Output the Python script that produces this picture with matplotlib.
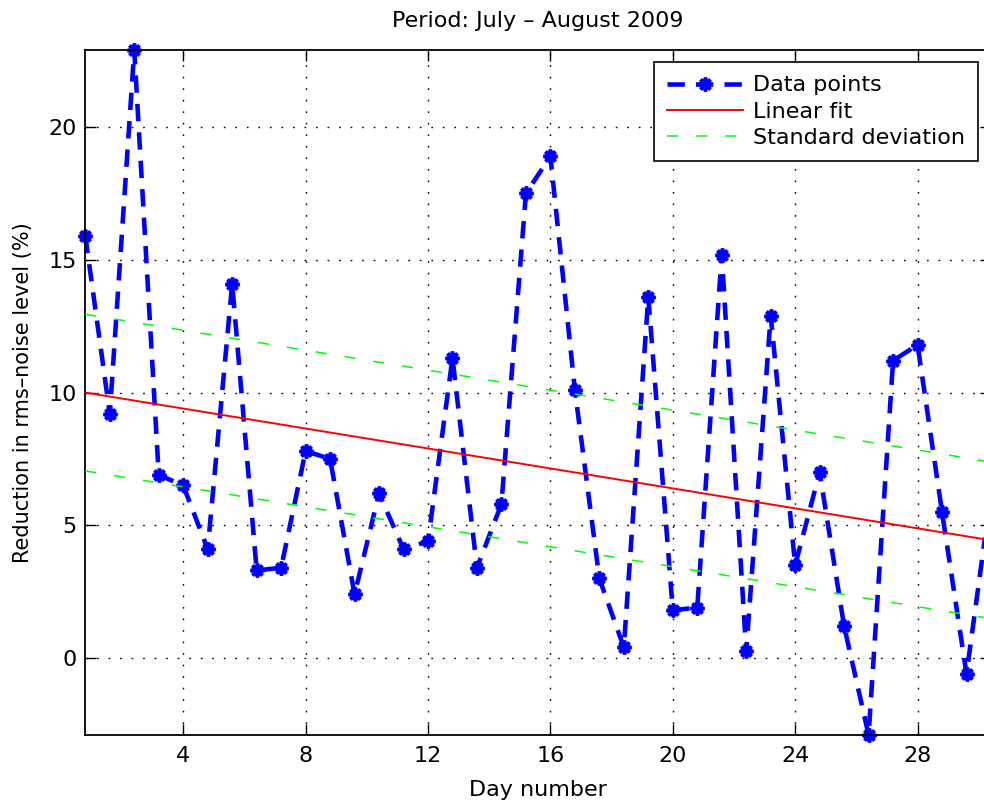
import matplotlib
matplotlib.use("Agg")
import matplotlib.pyplot as plt
import numpy as np

plt.rcParams['font.family'] = ['DejaVu Sans']
plt.rcParams['lines.scale_dashes'] = False

# Measurements: day number and reduction of the rms-noise level (%)
days = [0.8, 1.6, 2.4, 3.2, 4.0, 4.8, 5.6, 6.4, 7.2, 8.0, 8.8, 9.6, 10.4,
        11.2, 12.0, 12.8, 13.6, 14.4, 15.2, 16.0, 16.8, 17.6, 18.4, 19.2,
        20.0, 20.8, 21.6, 22.4, 23.2, 24.0, 24.8, 25.6, 26.4, 27.2, 28.0,
        28.8, 29.6, 30.4]
reduction = [15.9, 9.2, 22.9, 6.9, 6.5, 4.1, 14.1, 3.3, 3.4, 7.8, 7.5, 2.4,
             6.2, 4.1, 4.4, 11.3, 3.4, 5.8, 17.5, 18.9, 10.1, 3.0, 0.4, 13.6,
             1.8, 1.9, 15.2, 0.25, 12.9, 3.5, 7.0, 1.2, -2.9, 11.2, 11.8,
             5.5, -0.6, 6.2]

# Linear trend and its spread
fit_intercept = 10.15
fit_slope = -0.188
fit_sigma = 2.95

xticks = [4, 8, 12, 16, 20, 24, 28]
yticks = [0, 5, 10, 15, 20]

FS = 16

fig = plt.figure(figsize=(9.84, 8.02), dpi=100)
ax = fig.add_axes([0.0867, 0.0835, 0.9204, 0.854])

ax.plot(days, reduction, color='#0000ff', linestyle=(0, (12.5, 8.0)),
        linewidth=3.3, marker=(8, 2, 0), markersize=10, markeredgewidth=2.6,
        clip_on=False, zorder=2, label='Data points')

fx = np.array([days[0], days[-1]])
fy = fit_intercept + fit_slope * fx
ax.plot(fx, fy, color='#ff0000', linewidth=1.4, zorder=3, label='Linear fit')
ax.plot(fx, fy + fit_sigma, color='#00ff00', linestyle=(0, (8.0, 13.0)),
        linewidth=1.1, zorder=3, label='Standard deviation')
ax.plot(fx, fy - fit_sigma, color='#00ff00', linestyle=(0, (8.0, 13.0)),
        linewidth=1.1, zorder=3)

ax.set_xlim(days[0], days[-1])
ax.set_ylim(min(reduction), max(reduction))
ax.set_xticks(xticks)
ax.set_yticks(yticks)

ax.grid(True, color='black', linestyle=(0, (1.2, 7.1)), linewidth=1.0)
ax.set_axisbelow(True)

ax.tick_params(direction='in', length=8, width=1.0, top=True, right=True,
               labelsize=FS, colors='black')
ax.tick_params(axis='x', pad=8)
ax.tick_params(axis='y', pad=6)
for s in ax.spines.values():
    s.set_linewidth(1.3)
    s.set_color('black')

ax.set_title('Period: July – August 2009', fontsize=FS, pad=17)
ax.set_xlabel('Day number', fontsize=FS, labelpad=10)
ax.set_ylabel('Reduction in rms–noise level (%)', fontsize=15)
ax.yaxis.set_label_coords(-0.058, 0.5)

leg = ax.legend(loc='upper right', bbox_to_anchor=(0.9857, 0.9825),
                borderaxespad=0, fontsize=FS, frameon=True, fancybox=False,
                edgecolor='black', framealpha=1, handlelength=3.4,
                handletextpad=0.45, labelspacing=0.28, borderpad=0.6,
                numpoints=1)
leg.get_frame().set_linewidth(1.2)

fig.savefig('out.png', dpi=100)
